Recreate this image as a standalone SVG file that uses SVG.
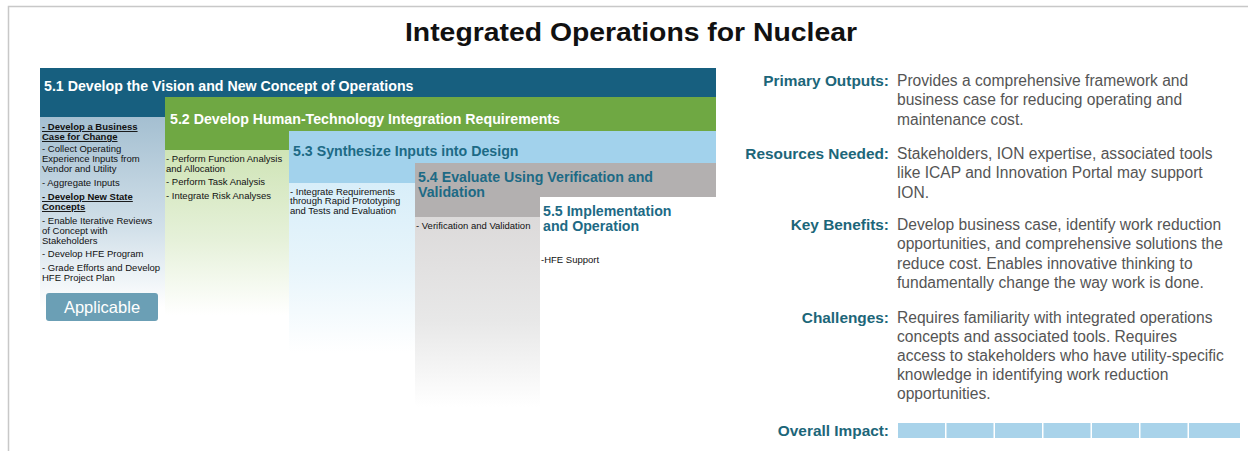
<svg xmlns="http://www.w3.org/2000/svg" width="1248" height="451" viewBox="0 0 1248 451">
<defs>
<style>
.hd{font-family:"Liberation Sans",Arial,sans-serif;font-weight:bold;font-size:14.2px}
.hw{fill:#ffffff}
.ht{fill:#1d6a85}
.it{font-family:"Liberation Sans",Arial,sans-serif;font-size:9.5px;fill:#111}
.is{font-family:"Liberation Sans",Arial,sans-serif;font-size:9.5px;fill:#111}
.ul{font-weight:bold;text-decoration:underline}
.lb{font-family:"Liberation Sans",Arial,sans-serif;font-weight:bold;font-size:15.4px;fill:#1c6679;text-anchor:end}
.bd{font-family:"Liberation Sans",Arial,sans-serif;font-size:15.6px;fill:#555}
</style>
<linearGradient id="g1" x1="0" y1="0" x2="0" y2="1">
<stop offset="0" stop-color="#a4bfd1"/><stop offset="0.6" stop-color="#d3e1ea"/><stop offset="1" stop-color="#ffffff"/>
</linearGradient>
<linearGradient id="g2" x1="0" y1="0" x2="0" y2="1">
<stop offset="0" stop-color="#cfe4b6"/><stop offset="0.55" stop-color="#e6f1da"/><stop offset="1" stop-color="#ffffff"/>
</linearGradient>
<linearGradient id="g3" x1="0" y1="0" x2="0" y2="1">
<stop offset="0" stop-color="#d8eef9"/><stop offset="0.5" stop-color="#e8f5fb"/><stop offset="1" stop-color="#ffffff"/>
</linearGradient>
<linearGradient id="g4" x1="0" y1="0" x2="0" y2="1">
<stop offset="0" stop-color="#dcdada"/><stop offset="0.55" stop-color="#e8e8e8"/><stop offset="1" stop-color="#ffffff"/>
</linearGradient>
</defs>
<rect x="0" y="0" width="1248" height="451" fill="#ffffff"/>
<path d="M8.5 451 V6.5 H1248" fill="none" stroke="#c8c8c8" stroke-width="1.5"/>
<text x="631" y="41" text-anchor="middle" font-family="'Liberation Sans',Arial,sans-serif" font-weight="bold" font-size="25" fill="#111" textLength="452" lengthAdjust="spacingAndGlyphs">Integrated Operations for Nuclear</text>

<g id="stage51">
<rect x="40" y="68" width="676" height="29" fill="#175f7f"/>
<rect x="40" y="96" width="125" height="21" fill="#175f7f"/>
<rect x="40" y="117" width="125" height="190" fill="url(#g1)"/>
<text class="hd hw" x="44" y="91">5.1 Develop the Vision and New Concept of Operations</text>
<text class="it ul" x="42" y="130">- Develop a Business</text>
<text class="it ul" x="42" y="140">Case for Change</text>
<text class="it" x="42" y="152">- Collect Operating</text>
<text class="it" x="42" y="162">Experience Inputs from</text>
<text class="it" x="42" y="172">Vendor and Utility</text>
<text class="it" x="42" y="186">- Aggregate Inputs</text>
<text class="it ul" x="42" y="200">- Develop New State</text>
<text class="it ul" x="42" y="210">Concepts</text>
<text class="it" x="42" y="224">- Enable Iterative Reviews</text>
<text class="it" x="42" y="234">of Concept with</text>
<text class="it" x="42" y="244">Stakeholders</text>
<text class="it" x="42" y="257">- Develop HFE Program</text>
<text class="it" x="42" y="271">- Grade Efforts and Develop</text>
<text class="it" x="42" y="281">HFE Project Plan</text>
</g>

<g id="applicable">
<rect x="46" y="293" width="112" height="28" rx="3" fill="#6b9fb5"/>
<text x="102" y="313" text-anchor="middle" font-family="'Liberation Sans',Arial,sans-serif" font-size="16.5" fill="#ffffff">Applicable</text>
</g>

<g id="stage52">
<rect x="165" y="97" width="551" height="34" fill="#6fa843"/>
<rect x="165" y="130" width="124" height="20" fill="#6fa843"/>
<rect x="165" y="150" width="124" height="165" fill="url(#g2)"/>
<text class="hd hw" x="170" y="124">5.2 Develop Human-Technology Integration Requirements</text>
<text class="it" x="166" y="162">- Perform Function Analysis</text>
<text class="it" x="166" y="172">and Allocation</text>
<text class="it" x="166" y="185">- Perform Task Analysis</text>
<text class="it" x="166" y="199">- Integrate Risk Analyses</text>
</g>

<g id="stage53">
<rect x="289" y="131" width="427" height="32" fill="#a2d2ec"/>
<rect x="289" y="162" width="126" height="21" fill="#a2d2ec"/>
<rect x="289" y="183" width="126" height="170" fill="url(#g3)"/>
<text class="hd ht" x="293" y="156">5.3 Synthesize Inputs into Design</text>
<text class="is" x="290" y="195">- Integrate Requirements</text>
<text class="is" x="290" y="204">through Rapid Prototyping</text>
<text class="is" x="290" y="214">and Tests and Evaluation</text>
</g>

<g id="stage54">
<rect x="415" y="163" width="301" height="34" fill="#b3b0b0"/>
<rect x="415" y="196" width="125" height="21" fill="#b3b0b0"/>
<rect x="415" y="217" width="125" height="190" fill="url(#g4)"/>
<text class="hd ht" x="418" y="182">5.4 Evaluate Using Verification and</text>
<text class="hd ht" x="418" y="197">Validation</text>
<text class="is" x="416" y="229">- Verification and Validation</text>
</g>

<g id="stage55">
<rect x="540" y="197" width="176" height="120" fill="#ffffff"/>
<text class="hd ht" x="543" y="216">5.5 Implementation</text>
<text class="hd ht" x="543" y="231">and Operation</text>
<text class="is" x="541" y="263">-HFE Support</text>
</g>

<g id="outputs">
<text class="lb" x="889" y="86">Primary Outputs:</text>
<text class="bd" x="897" y="86">Provides a comprehensive framework and</text>
<text class="bd" x="897" y="105">business case for reducing operating and</text>
<text class="bd" x="897" y="125">maintenance cost.</text>
</g>
<g id="resources">
<text class="lb" x="889" y="159">Resources Needed:</text>
<text class="bd" x="897" y="159">Stakeholders, ION expertise, associated tools</text>
<text class="bd" x="897" y="178">like ICAP and Innovation Portal may support</text>
<text class="bd" x="897" y="198">ION.</text>
</g>
<g id="benefits">
<text class="lb" x="889" y="230">Key Benefits:</text>
<text class="bd" x="897" y="230">Develop business case, identify work reduction</text>
<text class="bd" x="897" y="249">opportunities, and comprehensive solutions the</text>
<text class="bd" x="897" y="269">reduce cost. Enables innovative thinking to</text>
<text class="bd" x="897" y="288">fundamentally change the way work is done.</text>
</g>
<g id="challenges">
<text class="lb" x="889" y="323">Challenges:</text>
<text class="bd" x="897" y="323">Requires familiarity with integrated operations</text>
<text class="bd" x="897" y="342">concepts and associated tools. Requires</text>
<text class="bd" x="897" y="361">access to stakeholders who have utility-specific</text>
<text class="bd" x="897" y="380">knowledge in identifying work reduction</text>
<text class="bd" x="897" y="399">opportunities.</text>
</g>
<g id="impact">
<text class="lb" x="889" y="436">Overall Impact:</text>
<g fill="#a9d3ea">
<rect x="898" y="423" width="47" height="15"/>
<rect x="946.5" y="423" width="47" height="15"/>
<rect x="995" y="423" width="47" height="15"/>
<rect x="1043.5" y="423" width="47" height="15"/>
<rect x="1092" y="423" width="47" height="15"/>
<rect x="1140.5" y="423" width="47" height="15"/>
<rect x="1189" y="423" width="51" height="15"/>
</g>
</g>
</svg>
